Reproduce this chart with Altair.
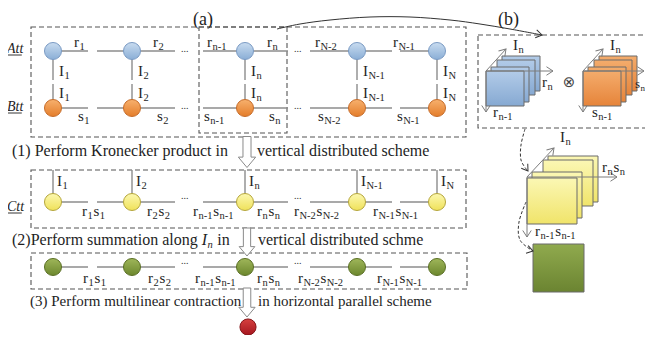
import altair as alt
import pandas as pd

# ---------------- diagram data (positions, in page pixels) ----------------
NODE_X = [53, 132, 245, 357, 437]
ATT_Y, BTT_Y, CTT_Y, SUM_Y = 51, 108, 202, 267
RED_X, RED_Y = 248, 327

EDGE_X1 = [53, 97, 132, 203, 245, 310, 357, 400]
EDGE_X2 = [88, 132, 175, 245, 288, 357, 392, 437]
DOTS_X = [186, 299]

ATT_LABELS = ["r_1", "r_2", "r_{n-1}", "r_n", "r_{N-2}", "r_{N-1}"]
ATT_LABEL_X = [74, 153, 207, 267, 315, 393]
BTT_LABELS = ["s_1", "s_2", "s_{n-1}", "s_n", "s_{N-2}", "s_{N-1}"]
BTT_LABEL_X = [78, 157, 204, 269, 318, 397]
MODE_LABELS = ["I_1", "I_2", "I_n", "I_{N-1}", "I_N"]
PAIR_LABELS = ["r_1s_1", "r_2s_2", "r_{n-1}s_{n-1}", "r_ns_n", "r_{N-2}s_{N-2}", "r_{N-1}s_{N-1}"]
CTT_LABEL_X = [82, 147, 193, 257, 294, 373]
SUM_LABEL_X = [83, 148, 195, 257, 298, 377]
ROW_NAMES = ["Att", "Btt", "Ctt"]
ROW_NAME_Y = [53, 111, 211]

BOX_X1 = [31, 199, 31, 31, 478]
BOX_X2 = [466, 287, 466, 467, 660]
BOX_Y1 = [27, 27, 170, 253, 35]
BOX_Y2 = [137, 133, 228, 289, 128]

STEP_TEXTS = ["(1) Perform Kronecker  product in", "vertical distributed scheme",
              "(2)Perform summation along ", "vertical distributed schme",
              "(3) Perform multilinear contraction", "in horizontal parallel scheme"]
STEP_X = [12, 257, 12, 258, 30, 258]
STEP_Y = [156, 156, 245, 245, 306, 306]
BLOCK_ARROW_Y = [152, 242, 302.5]
BLOCK_ARROW_H = [31, 28, 29]
BLOCK_ARROW_X = 247

# panel (b): stacked slices (back to front)
BLUE_X = [502, 497, 491, 486]
BLUE_Y = [56, 60, 67, 71]
ORANGE_X = [599, 594, 588, 583]
SMALL_W, SMALL_H = 38, 35
YELLOW_X = [548, 543, 532, 527]
YELLOW_Y = [156, 160, 172, 178]
BIG_W, BIG_H = 50, 46
GREEN_BOX = [533, 244, 584, 292]

AXIS_X1 = [486, 486, 486, 583, 583, 583, 527, 527, 527]
AXIS_Y1 = [71, 71, 71, 71, 71, 71, 177, 177, 177]
AXIS_X2 = [506, 553, 486, 603, 644, 583, 554, 617, 527]
AXIS_Y2 = [49, 71, 112, 49, 71, 112, 148, 177, 237]
AXIS_HEAD_ANGLE = [312, 0, 90, 312, 0, 90, 312, 0, 90]

CURVE_BIG_X = [277, 300, 330, 370, 410, 450, 480, 510, 542]
CURVE_BIG_Y = [29, 24, 20, 17, 17, 20, 24, 29, 35]
CURVE_D1_X = [525, 521, 521, 527]
CURVE_D1_Y = [129, 145, 160, 170]
CURVE_D2_X = [526, 519, 520, 533]
CURVE_D2_Y = [202, 222, 240, 251]
CURVE_HEAD_X = [542, 528, 533]
CURVE_HEAD_Y = [35, 171, 251]
CURVE_HEAD_ANGLE = [11, 55, 15]

# ---------------- helpers ----------------
TW = {' ': .25, '(': .333, ')': .333, '-': .333, 'a': .444, 'b': .5, 'c': .444, 'd': .5, 'e': .444,
      'f': .333, 'g': .5, 'h': .5, 'i': .278, 'j': .278, 'k': .5, 'l': .278, 'm': .778, 'n': .5,
      'o': .5, 'p': .5, 'q': .5, 'r': .333, 's': .389, 't': .278, 'u': .5, 'v': .5, 'w': .722,
      'x': .5, 'y': .5, 'z': .444, 'P': .556, 'K': .722, 'I': .333, 'N': .722}


def width(txt, size):
    return sum(TW.get(ch, .5) for ch in txt) * size


def parse(lbl):
    out, i = [], 0
    while i < len(lbl):
        if lbl[i] == '_':
            if lbl[i + 1] == '{':
                j = lbl.index('}', i)
                out.append((lbl[i + 2:j], True))
                i = j + 1
            else:
                out.append((lbl[i + 1], True))
                i += 2
        else:
            out.append((lbl[i], False))
            i += 1
    return out


def compose(lbl, x, y, base=15, sub=10.5, italic=False, color="#1e1e1e"):
    rows, cx = [], x
    for txt, is_sub in parse(lbl):
        sz = sub if is_sub else base
        rows.append(dict(x=cx, y=y + (3 if is_sub else 0), t=txt, s=sz, c=color, it=italic))
        cx += width(txt, sz) + (0.8 if is_sub else 0.4)
    return rows


XS = alt.Scale(domain=[8, 645], nice=False, zero=False)
YS = alt.Scale(domain=[8, 335], nice=False, zero=False, reverse=True)


def X(f="x"):
    return alt.X(f + ":Q", scale=XS, axis=None)


def Y(f="y"):
    return alt.Y(f + ":Q", scale=YS, axis=None)


def grad(top, bottom):
    return alt.LinearGradient(gradient="linear", x1=0, x2=0, y1=0, y2=1,
                              stops=[alt.GradientStop(offset=0, color=top),
                                     alt.GradientStop(offset=1, color=bottom)])


LINE = "#8c8c8c"
layers = []

# dashed boxes
boxes = pd.DataFrame(dict(x=BOX_X1, x2=BOX_X2, y=BOX_Y1, y2=BOX_Y2))
layers.append(alt.Chart(boxes).mark_rect(fill="white", fillOpacity=0, stroke="#555555",
                                         strokeWidth=1.1, strokeDash=[5, 3], clip=True)
              .encode(x=X(), x2="x2:Q", y=Y(), y2="y2:Q"))

# straight edges
segs = []
for ry in [ATT_Y, BTT_Y, CTT_Y, SUM_Y]:
    for a, b in zip(EDGE_X1, EDGE_X2):
        segs.append(dict(x=a, x2=b, y=ry, y2=ry))
for nx in NODE_X:
    segs.append(dict(x=nx, x2=nx, y=ATT_Y, y2=80))
    segs.append(dict(x=nx, x2=nx, y=84, y2=BTT_Y))
    segs.append(dict(x=nx, x2=nx, y=BOX_Y1[2], y2=CTT_Y))
layers.append(alt.Chart(pd.DataFrame(segs)).mark_rule(color=LINE, strokeWidth=1.4)
              .encode(x=X(), x2="x2:Q", y=Y(), y2="y2:Q"))

# nodes
node_styles = [
    ([dict(x=v, y=ATT_Y) for v in NODE_X], grad("#c9dcf0", "#8aaed6"), "#7b9bc4", 290),
    ([dict(x=v, y=BTT_Y) for v in NODE_X], grad("#f7b16e", "#e47d2a"), "#c66d2b", 290),
    ([dict(x=v, y=CTT_Y) for v in NODE_X], grad("#fcf8b0", "#efe159"), "#b5a63c", 290),
    ([dict(x=v, y=SUM_Y) for v in NODE_X], grad("#9fb65a", "#6c872d"), "#5b7026", 290),
    ([dict(x=RED_X, y=RED_Y)], grad("#d6403f", "#a5171f"), "#861519", 260),
]
for rows, fill, stroke, size in node_styles:
    layers.append(alt.Chart(pd.DataFrame(rows)).mark_circle(size=size, fill=fill, stroke=stroke,
                                                            strokeWidth=1, opacity=1)
                  .encode(x=X(), y=Y()))


# panel (b) slices
def slices(xs, ys, w, h):
    return pd.DataFrame(dict(x=xs, x2=[v + w for v in xs], y=ys, y2=[v + h for v in ys]))


for df, fill in [(slices(BLUE_X, BLUE_Y, SMALL_W, SMALL_H), grad("#b2cbe8", "#86a9d2")),
                 (slices(ORANGE_X, BLUE_Y, SMALL_W, SMALL_H), grad("#f4ac6c", "#e6843a")),
                 (slices(YELLOW_X, YELLOW_Y, BIG_W, BIG_H), grad("#fbf7b4", "#f0e46a")),
                 (pd.DataFrame(dict(x=[GREEN_BOX[0]], y=[GREEN_BOX[1]], x2=[GREEN_BOX[2]], y2=[GREEN_BOX[3]])),
                  grad("#90aa4e", "#6b8431"))]:
    layers.append(alt.Chart(df).mark_rect(fill=fill, stroke="#6a6a6a", strokeWidth=1)
                  .encode(x=X(), x2="x2:Q", y=Y(), y2="y2:Q"))

# axis arrows in panel (b)
axes = pd.DataFrame(dict(x=AXIS_X1, y=AXIS_Y1, x2=AXIS_X2, y2=AXIS_Y2))
layers.append(alt.Chart(axes).mark_rule(color="#7d7d7d", strokeWidth=1)
              .encode(x=X(), x2="x2:Q", y=Y(), y2="y2:Q"))
HEAD = "M-1,-0.65L0,0L-1,0.65"
heads = pd.DataFrame(dict(x=AXIS_X2, y=AXIS_Y2, a=AXIS_HEAD_ANGLE))
layers.append(alt.Chart(heads).mark_point(shape=HEAD, filled=False, stroke="#7d7d7d", strokeWidth=1,
                                          size=170, opacity=1)
              .encode(x=X(), y=Y(), angle=alt.Angle("a:Q", scale=None)))

# curved arrows
big = pd.DataFrame(dict(x=CURVE_BIG_X, y=CURVE_BIG_Y, o=range(len(CURVE_BIG_X))))
layers.append(alt.Chart(big).mark_line(color="#333333", strokeWidth=1, interpolate="cardinal")
              .encode(x=X(), y=Y(), order="o:Q"))
dash = pd.DataFrame(dict(x=CURVE_D1_X + CURVE_D2_X, y=CURVE_D1_Y + CURVE_D2_Y,
                         g=["a"] * len(CURVE_D1_X) + ["b"] * len(CURVE_D2_X),
                         o=list(range(len(CURVE_D1_X))) + list(range(len(CURVE_D2_X)))))
layers.append(alt.Chart(dash).mark_line(color="#333333", strokeWidth=1, strokeDash=[3, 2],
                                        interpolate="cardinal")
              .encode(x=X(), y=Y(), order="o:Q", detail="g:N"))
cheads = pd.DataFrame(dict(x=CURVE_HEAD_X, y=CURVE_HEAD_Y, a=CURVE_HEAD_ANGLE))
layers.append(alt.Chart(cheads).mark_point(shape=HEAD, filled=False, stroke="#333333", strokeWidth=1,
                                           size=150, opacity=1)
              .encode(x=X(), y=Y(), angle=alt.Angle("a:Q", scale=None)))

# block (hollow) arrows
BLOCK = "M-0.26,-1L0.26,-1L0.26,0.33L0.56,0.33L0,1L-0.56,0.33L-0.26,0.33Z"
blocks = pd.DataFrame(dict(x=[BLOCK_ARROW_X] * 3, y=BLOCK_ARROW_Y, s=[h * h for h in BLOCK_ARROW_H]))
layers.append(alt.Chart(blocks).mark_point(shape=BLOCK, filled=True, fill="white", stroke="#8a8a8a",
                                           strokeWidth=1, opacity=1)
              .encode(x=X(), y=Y(), size=alt.Size("s:Q", scale=None)))

# ---------------- texts ----------------
texts = []
for lbl, lx in zip(ATT_LABELS, ATT_LABEL_X):
    texts += compose(lbl, lx, 47)
for lbl, lx in zip(BTT_LABELS, BTT_LABEL_X):
    texts += compose(lbl, lx, 121)
for lbl, nx in zip(MODE_LABELS, NODE_X):
    texts += compose(lbl, nx + 6, 76)
    texts += compose(lbl, nx + 6, 98)
    texts += compose(lbl, nx + 4, 186)
for lbl, lx in zip(PAIR_LABELS, CTT_LABEL_X):
    texts += compose(lbl, lx, 216)
for lbl, lx in zip(PAIR_LABELS, SUM_LABEL_X):
    texts += compose(lbl, lx, 283)
for ry, off in [(ATT_Y, 1), (BTT_Y, 1), (CTT_Y, -3), (SUM_Y, -3)]:
    for dx in DOTS_X:
        texts.append(dict(x=dx - 5, y=ry + off, t="...", s=10, c="#333333", it=False))
# step captions
for txt, sx, sy in zip(STEP_TEXTS, STEP_X, STEP_Y):
    sz = 15 if txt.startswith("(3)") or txt.startswith("in horiz") else 16
    texts.append(dict(x=sx, y=sy, t=txt, s=sz, c="#1e1e1e", it=False))
ix = STEP_X[2] + width(STEP_TEXTS[2], 16)
texts += compose("I_n", ix, STEP_Y[2], base=16, sub=10.5, italic=True)
texts.append(dict(x=ix + width("I", 16) + width("n", 10.5) + 5, y=STEP_Y[2], t="in", s=16,
                  c="#1e1e1e", it=False))
# panel titles
texts.append(dict(x=193, y=25, t="(a)", s=18, c="#1e1e1e", it=False))
texts.append(dict(x=498, y=25, t="(b)", s=18, c="#1e1e1e", it=False))
# panel (b) labels
texts += compose("I_n", 513, 50)
texts += compose("r_n", 542, 87)
texts += compose("r_{n-1}", 493, 117)
texts += compose("I_n", 610, 50)
texts += compose("s_n", 635, 88, base=13, sub=9)
texts += compose("s_{n-1}", 592, 117)
texts += compose("I_n", 560, 142)
texts += compose("r_ns_n", 602, 172)
texts += compose("r_{n-1}s_{n-1}", 535, 236)
# row names
for nm, ny in zip(ROW_NAMES, ROW_NAME_Y):
    texts.append(dict(x=7, y=ny, t=nm, s=14, c="#1e1e1e", it=True))

tdf = pd.DataFrame(texts)
for italic in [False, True]:
    part = tdf[tdf["it"] == italic]
    layers.append(alt.Chart(part).mark_text(align="left", baseline="alphabetic", font="Liberation Serif",
                                            fontStyle="italic" if italic else "normal")
                  .encode(x=X(), y=Y(), text="t:N", size=alt.Size("s:Q", scale=None),
                          color=alt.Color("c:N", scale=None)))

# otimes symbol
otimes = pd.DataFrame(dict(x=[569], y=[82], t=["⊗"]))
layers.append(alt.Chart(otimes).mark_text(font="DejaVu Sans", fontSize=15, color="#444444",
                                          align="center", baseline="middle")
              .encode(x=X(), y=Y(), text="t:N"))

# underlines of the row names
und = pd.DataFrame(dict(x=[7] * 3, x2=[7 + width("Att", 14)] * 3, y=[v + 2 for v in ROW_NAME_Y],
                        y2=[v + 2 for v in ROW_NAME_Y]))
layers.append(alt.Chart(und).mark_rule(color="#1e1e1e", strokeWidth=0.9)
              .encode(x=X(), x2="x2:Q", y=Y(), y2="y2:Q"))

chart = alt.layer(*layers).properties(
    width=637, height=327, padding=0, autosize=alt.AutoSizeParams(type="none"), background="white"
).configure_view(stroke=None)

chart.save("out.html", embed_options={"renderer": "svg", "actions": False})
